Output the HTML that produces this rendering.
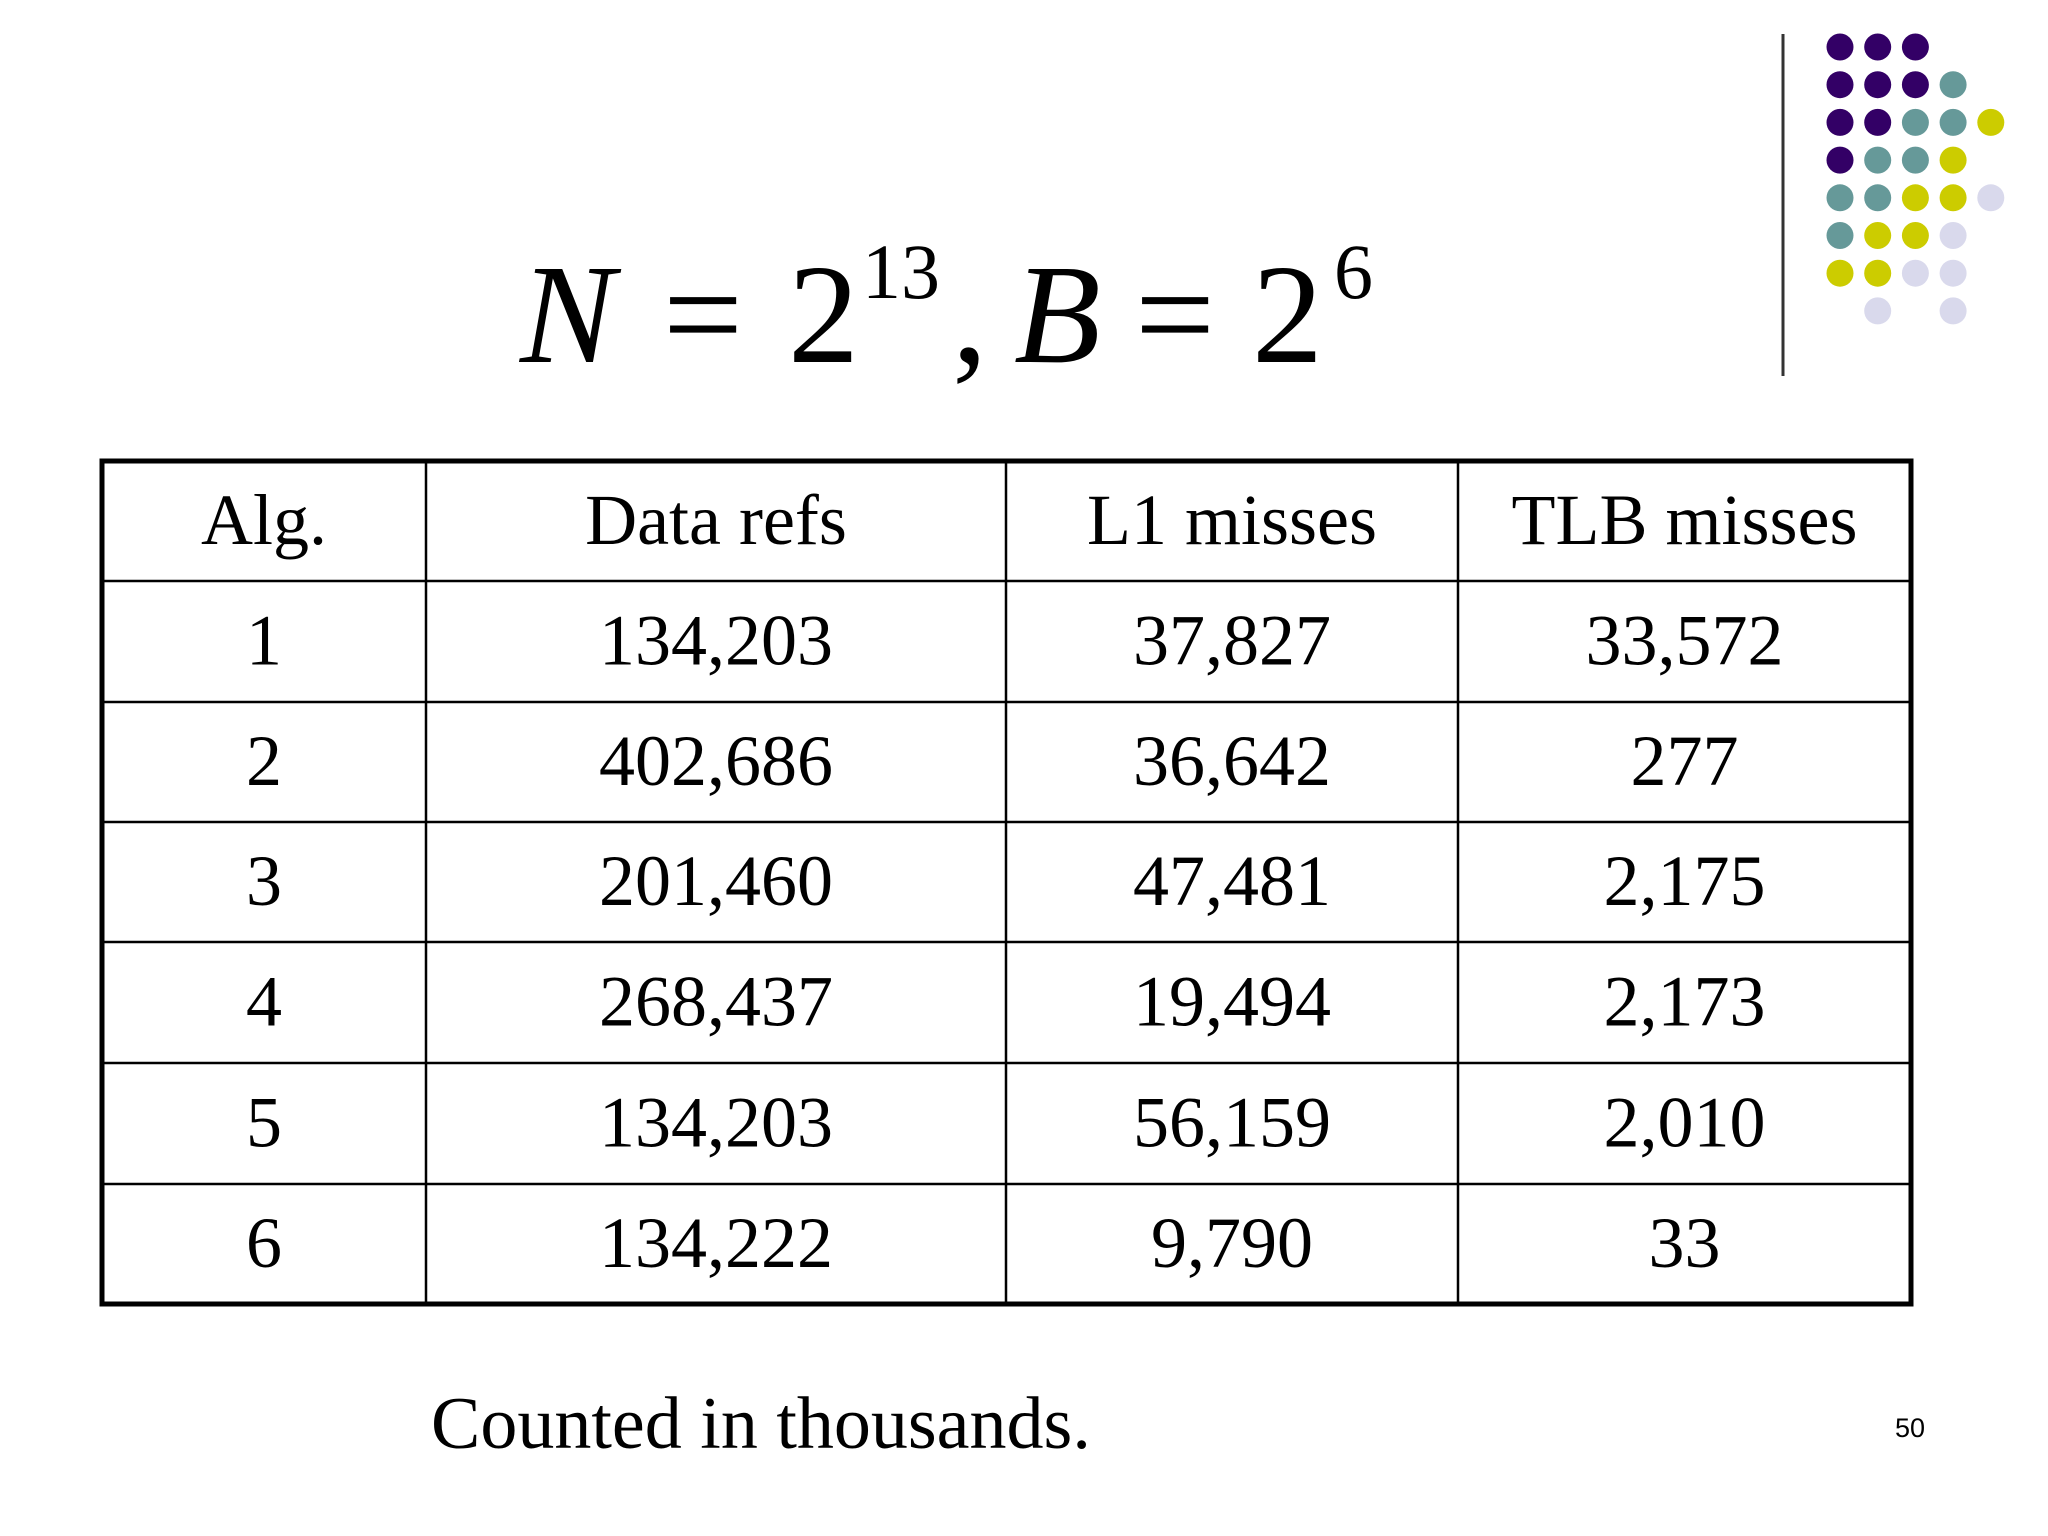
<!DOCTYPE html>
<html><head><meta charset="utf-8"><style>
html,body{margin:0;padding:0;background:#fff;}
svg{display:block;}
text{font-family:"Liberation Serif",serif;fill:#000;}
</style></head><body>
<svg id="s" width="2048" height="1536" viewBox="0 0 2048 1536">
<line x1="1783" y1="34" x2="1783" y2="376" stroke="#333" stroke-width="3"/>
<g id="dots"></g>
<g font-size="142">
<text x="520" y="362" font-style="italic">N</text>
<text x="663" y="362">=</text>
<text x="788" y="362">2</text>
<text x="862" y="298" font-size="78">13</text>
<text x="952" y="362">,</text>
<text x="1014" y="362" font-style="italic">B</text>
<text x="1135" y="362">=</text>
<text x="1252" y="362">2</text>
<text x="1334" y="298" font-size="78">6</text>
</g>
<g id="tbl"></g>
<text x="431" y="1448" font-size="74">Counted in thousands.</text>
<text x="1910" y="1437" font-size="27" style="font-family:'Liberation Sans',sans-serif" text-anchor="middle">50</text>
</svg>
<script>
const headers=["Alg.","Data refs","L1 misses","TLB misses"];
const algs=["1","2","3","4","5","6"];
const dataRefs=["134,203","402,686","201,460","268,437","134,203","134,222"];
const l1Misses=["37,827","36,642","47,481","19,494","56,159","9,790"];
const tlbMisses=["33,572","277","2,175","2,173","2,010","33"];
const NS="http://www.w3.org/2000/svg";
const dotColors=["#330066","#669999","#cccc00","#d9d9ec"];
const dotGrid=[
 [0,0,0,-1,-1],[0,0,0,1,-1],[0,0,1,1,2],[0,1,1,2,-1],
 [1,1,2,2,3],[1,2,2,3,-1],[2,2,3,3,-1],[-1,3,-1,3,-1]];
const dg=document.getElementById('dots');
dotGrid.forEach((row,r)=>row.forEach((c,k)=>{
 if(c<0)return;
 const e=document.createElementNS(NS,'circle');
 
 
 e.setAttribute('cx',1840+k*37.7);e.setAttribute('cy',47+r*37.7);
 e.setAttribute('r',13.5);e.setAttribute('fill',dotColors[c]);dg.appendChild(e);
}));
const g=document.getElementById('tbl');
const colX=[102,426,1006,1458,1911];
const rowY=[461,581,702,822,942,1063,1184,1304];
function ln(x1,y1,x2,y2,w,name){const l=document.createElementNS(NS,'line');
 
 
 l.setAttribute('x1',x1);l.setAttribute('y1',y1);l.setAttribute('x2',x2);l.setAttribute('y2',y2);
 l.setAttribute('stroke','#000');l.setAttribute('stroke-width',w);g.appendChild(l);}
for(let i=1;i<rowY.length-1;i++)ln(colX[0],rowY[i],colX[4],rowY[i],2.5,'row-divider');
for(let i=1;i<colX.length-1;i++)ln(colX[i],rowY[0],colX[i],rowY[7],2.5,'column-divider');
const b=document.createElementNS(NS,'rect');


b.setAttribute('x',colX[0]);b.setAttribute('y',rowY[0]);b.setAttribute('width',colX[4]-colX[0]);b.setAttribute('height',rowY[7]-rowY[0]);
b.setAttribute('fill','none');b.setAttribute('stroke','#000');b.setAttribute('stroke-width',5);g.appendChild(b);
function cell(txt,c,r,name){const t=document.createElementNS(NS,'text');
 
 
 t.setAttribute('x',(colX[c]+colX[c+1])/2);t.setAttribute('y',(rowY[r]+rowY[r+1])/2+23);
 t.setAttribute('font-size','72');t.setAttribute('text-anchor','middle');t.textContent=txt;g.appendChild(t);}
headers.forEach((h,c)=>cell(h,c,0,'header-cell'));
algs.forEach((a,i)=>{cell(a,0,i+1,'alg-cell');cell(dataRefs[i],1,i+1,'data-refs-cell');
 cell(l1Misses[i],2,i+1,'l1-misses-cell');cell(tlbMisses[i],3,i+1,'tlb-misses-cell');});
</script>
</body></html>
